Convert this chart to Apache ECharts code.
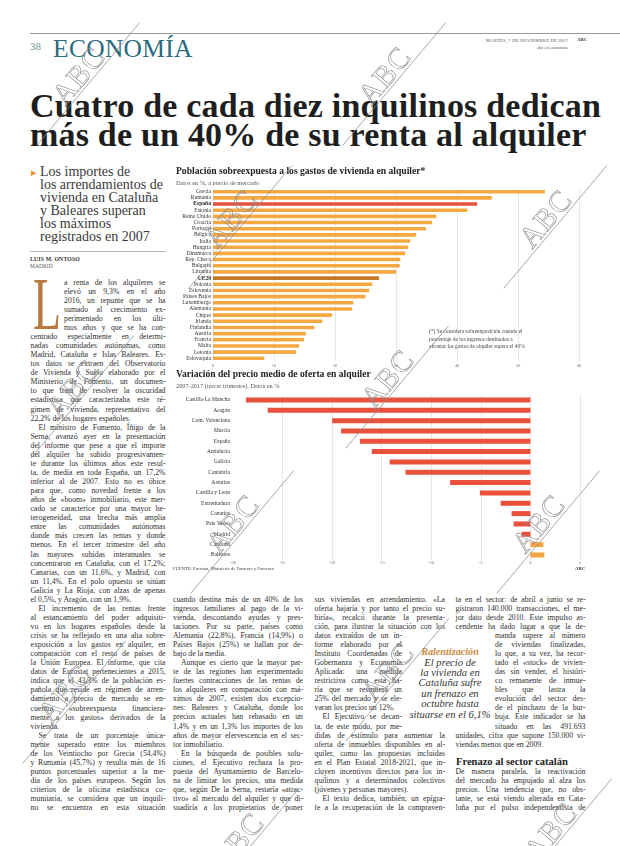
<!DOCTYPE html>
<html><head><meta charset="utf-8">
<script src="https://cdn.jsdelivr.net/npm/echarts@6/dist/echarts.min.js"></script>
<style>
html,body{margin:0;padding:0;background:#fff;}
#page{position:relative;width:620px;height:846px;overflow:hidden;background:#fff;font-family:'Liberation Serif',serif;color:#2e2e2e;}
.ab{position:absolute;white-space:nowrap;}
.ch{position:absolute;}
#wm{position:absolute;left:0;top:0;pointer-events:none;}
</style></head>
<body><div id="page">
<div id="c1" class="ch" style="left:170px;top:160px;width:450px;height:212px;"></div>
<div id="c2" class="ch" style="left:170px;top:360px;width:450px;height:215px;"></div>
</div>
<script>
// ---------- DATA ----------
const c1Countries = ['Grecia','Rumanía','España','Estonia','Reino Unido','Croacia','Portugal','Bélgica','Italia','Hungría','Dinamarca','Rep. Checa','Bulgaria','Lituania','UE28','Polonia','Eslovenia','Países Bajos','Luxemburgo','Alemania','Chipre','Irlanda','Finlandia','Austria','Francia','Malta','Letonia','Eslovaquia'];
const c1Values = [54.4,45.7,43.3,41.7,36.6,35.9,34.9,33.3,32.3,32.0,31.5,30.7,30.6,30.0,27.2,26.1,25.6,25.0,23.0,22.8,19.5,17.9,16.6,15.2,14.9,14.1,13.6,8.4];
const c1Ticks = [0,10,20,30,40,50,60];
const c2Regions = ['Castilla-La Mancha','Aragón','Com. Valenciana','Murcia','España','Andalucía','Galicia','Cantabria','Asturias','Castilla y León','Extremadura','Canarias','País Vasco','Madrid','Cataluña','Baleares'];
const c2Values = [-28.7,-26.5,-20.0,-19.1,-17.2,-16.0,-14.2,-12.6,-8.1,-5.1,-3.0,-1.9,-1.7,-0.9,1.3,1.4];
const c2Ticks = [-30,-25,-20,-15,-10,-5,0,5];

// ---------- TEXT ----------
const headline = ['Cuatro de cada diez inquilinos dedican','más de un 40% de su renta al alquiler'];
const deck = ['Los importes de','los arrendamientos de','vivienda en Cataluña','y Baleares superan','los máximos','registrados en 2007'];
const leftCol = [
"a renta de los alquileres se","elevó un 9,3% en el año","2016, un repunte que se ha","sumado al crecimiento ex-","perimentado en los últi-","mos años y que se ha con-",
"centrado especialmente en determi-","nadas comunidades autónomas, como","Madrid, Cataluña e Islas Baleares. Es-","tos datos se extraen del Observatorio","de Vivienda y Suelo elaborado por el","Ministerio de Fomento, un documen-","to que trata de resolver la oscuridad","estadística que caracterizaba este ré-","gimen de vivienda, representativo del","22,2% de los hogares españoles.$",
"^El ministro de Fomento, Íñigo de la","Serna, avanzó ayer en la presentación","del informe que pese a que el importe","del alquiler ha subido progresivamen-","te durante los últimos años este resul-","ta, de media en toda España, un 17,2%","inferior al de 2007. Esto no es óbice","para que, como novedad frente a los","años de «boom» inmobiliario, este mer-","cado se caracterice por una mayor he-","terogeneidad, una brecha más amplia","entre las comunidades autónomas","donde más crecen las rentas y donde","menos. En el tercer trimestre del año","las mayores subidas interanuales se","concentraron en Cataluña, con el 17,2%;","Canarias, con un 11,6%, y Madrid, con","un 11,4%. En el polo opuesto se sitúan","Galicia y La Rioja, con alzas de apenas","el 0,5%, y Aragón, con un 1,9%.$",
"^El incremento de las rentas frente","al estancamiento del poder adquisiti-","vo en los hogares españoles desde la","crisis se ha reflejado en una alta sobre-","exposición a los gastos en alquiler, en","comparación con el resto de países de","la Unión Europea. El informe, que cita","datos de Eurostat pertenecientes a 2015,","indica que el 43,3% de la población es-","pañola que reside en régimen de arren-","damiento a precio de mercado se en-","cuentra «sobreexpuesta financiera-","mente a los gastos» derivados de la","vivienda.$",
"^Se trata de un porcentaje única-","mente superado entre los miembros","de los Veintiocho por Grecia (54,4%)","y Rumanía (45,7%) y resulta más de 16","puntos porcentuales superior a la me-","dia de los países europeos. Según los","criterios de la oficina estadística co-","munitaria, se considera que un inquili-","no se encuentra en esta situación"];
const col1 = [
"cuando destina más de un 40% de los","ingresos familiares al pago de la vi-","vienda, descontando ayudas y pres-","taciones. Por su parte, países como","Alemania (22,8%), Francia (14,9%) o","Países Bajos (25%) se hallan por de-","bajo de la media.$",
"^Aunque es cierto que la mayor par-","te de las regiones han experimentado","fuertes contracciones de las rentas de","los alquileres en comparación con má-","ximos de 2007, existen dos excepcio-","nes: Baleares y Cataluña, donde los","precios actuales han rebasado en un","1,4% y en un 1,3% los importes de los","años de mayor efervescencia en el sec-","tor inmobiliario.$",
"^En la búsqueda de posibles solu-","ciones, el Ejecutivo rechaza la pro-","puesta del Ayuntamiento de Barcelo-","na de limitar los precios, una medida","que, según De la Serna, restaría «atrac-","tivo» al mercado del alquiler y que di-","suadiría a los propietarios de poner"];
const col2 = [
"sus viviendas en arrendamiento. «La","oferta bajaría y por tanto el precio su-","biría», recalcó durante la presenta-","ción, para ilustrar la situación con los","datos extraídos de un in-","forme elaborado por el","Instituto Coordenadas de","Gobernanza y Economía","Aplicada: una medida","restrictiva como esta ha-","ría que se resintiera un","25% del mercado y se ele-","varan los precios un 12%.$",
"^El Ejecutivo se decan-","ta, de este modo, por me-","didas de estímulo para aumentar la","oferta de inmuebles disponibles en al-","quiler, como las propuestas incluidas","en el Plan Estatal 2018-2021, que in-","cluyen incentivos directos para los in-","quilinos y a determinados colectivos","(jóvenes y personas mayores).$",
"^El texto dedica, también, un epígra-","fe a la recuperación de la compraven-"];
const col3 = [
"ta en el sector: de abril a junio se re-","gistraron 140.000 transacciones, el me-","jor dato desde 2010. Este impulso as-","cendente ha dado lugar a que la de-","manda supere al número","de viviendas finalizadas,","lo que, a su vez, ha recor-","tado el «stock» de vivien-","das sin vender, el históri-","co remanente de inmue-","bles que lastra la","evolución del sector des-","de el pinchazo de la bur-","buja. Este indicador se ha","situado en las 491.693","unidades, cifra que supone 150.000 vi-","viendas menos que en 2009.$",
"","",
"De manera paralela, la reactivación","del mercado ha empujado al alza los","precios. Una tendencia que, no obs-","tante, se está viendo alterada en Cata-","luña por el pulso independentista de"];
const quote = ['El precio de','la vivienda en','Cataluña sufre','un frenazo en','octubre hasta','situarse en el 6,1%'];
const marks = [[86,82],[392,82],[238,225],[553,225],[80,395],[395,385],[240,530],[546,530],[72,700],[395,678],[245,848],[558,838]];

const page = document.getElementById('page');
const G = 9.06, FS = 7.75;

function addText(t, x, base, fs, css){
  const s = document.createElement('span');
  s.className = 'ab'; s.textContent = t;
  s.style.fontSize = fs + 'px'; s.style.lineHeight = fs + 'px';
  s.style.left = x + 'px'; s.style.top = (base - 0.8375*fs) + 'px';
  if (css) Object.assign(s.style, css);
  page.appendChild(s);
  return s;
}
function tiny(t, x, base, fs, css, right){
  const k = 3;
  const s = addText(t, x, base, fs*k, css);
  s.style.transformOrigin = '0 0';
  s.style.transform = 'scale(' + (1/k) + ')';
  s.style.top = (base - 0.8375*fs) + 'px';
  if (right){ const w = s.getBoundingClientRect().width; s.style.left = (x - w) + 'px'; }
  return s;
}
function line(t, x, w, base, fs, justify, css){
  const s = addText(t, x, base, fs, css);
  const nat = s.getBoundingClientRect().width;
  const extra = w - nat;
  const nsp = (t.match(/ /g) || []).length;
  if (extra < 0) s.style.letterSpacing = (extra / t.length) + 'px';
  else if (justify && nsp > 0) s.style.wordSpacing = (extra / nsp) + 'px';
  return s;
}
function column(lines, x0, x1, yc0, sFrom, sTo, sx0, sx1){
  lines.forEach((raw, i) => {
    if (!raw) return;
    let t = raw, ind = 0, just = true;
    if (t.startsWith('^')) { t = t.slice(1); ind = 8; }
    if (t.endsWith('$')) { t = t.slice(0, -1); just = false; }
    let a = x0, b = x1;
    if (i + 1 >= sFrom && i + 1 <= sTo) { a = sx0; b = sx1; }
    line(t, a + ind, b - a - ind, yc0 + i*G + 2.2, FS, just);
  });
}
function hr(x, y, w, c, h){
  const d = document.createElement('div');
  d.style.cssText = 'position:absolute;left:'+x+'px;top:'+y+'px;width:'+w+'px;height:'+(h||0.8)+'px;background:'+c;
  page.appendChild(d);
}

function build(){
  // header
  hr(30, 33, 590, '#9a9a9a', 0.8);
  addText('38', 30, 50, 11, {color:'#6f9393'});
  addText('ECONOMÍA', 53, 57.5, 25.5, {color:'#2b6c7e', letterSpacing:'0.3px'});
  tiny('MARTES, 7 DE NOVIEMBRE DE 2017', 568, 41.5, 4.6, {color:'#555', letterSpacing:'0.6px'}, true);
  tiny('ABC', 587, 41.5, 4.8, {color:'#333', fontWeight:'bold'}, true);
  tiny('abc.es/economia', 568, 48.5, 4.6, {color:'#555'}, true);

  // headline
  const h1 = addText(headline[0], 30, 117, 34, {fontWeight:'bold', color:'#1e1e1e'});
  const nat = h1.getBoundingClientRect().width;
  const ls = (571 - nat) / headline[0].length;
  h1.style.letterSpacing = ls + 'px';
  addText(headline[1], 30, 146, 34, {fontWeight:'bold', color:'#1e1e1e', letterSpacing: ls + 'px'});

  // deck
  addText('▸', 31, 176, 11, {color:'#e0913a', fontFamily:'DejaVu Sans'});
  deck.forEach((t, i) => addText(t, 40, 176.5 + i*13.1, 14, {color:'#3a3a3a'}));
  hr(30, 251, 136, '#b5b5b5', 0.7);
  tiny('LUIS M. ONTOSO', 30, 261, 5.8, {fontWeight:'bold', color:'#333', letterSpacing:'0.4px'});
  tiny('MADRID', 30, 268.5, 5.4, {color:'#555', letterSpacing:'0.5px'});

  // drop cap
  addText('L', 33, 329, 74, {color:'#b87a40', transformOrigin:'0 0', transform:'scaleX(0.62)'});

  // columns
  column(leftCol, 30.5, 165.5, 283, 1, 6, 64, 165.5);
  column(col1, 173, 303, 600, 0, -1, 0, 0);
  column(col2, 314.5, 445, 600, 5, 15, 314.5, 402);
  column(col3, 455.5, 585.5, 600, 5, 15, 495, 585.5);
  addText('Frenazo al sector catalán', 456, 765.5, 10.5, {fontWeight:'bold', color:'#222'});

  // pull quote
  const rq = addText('Ralentización', 0, 656, 10.2, {fontWeight:'bold', fontStyle:'italic', color:'#c98a3e'});
  rq.style.left = (450 - rq.getBoundingClientRect().width/2) + 'px';
  quote.forEach((t, i) => {
    const s = addText(t, 0, 666.5 + i*10.4, 10.6, {fontStyle:'italic', color:'#333'});
    s.style.left = (450 - s.getBoundingClientRect().width/2) + 'px';
  });

  // watermarks
  const ns = 'http://www.w3.org/2000/svg';
  const svg = document.createElementNS(ns, 'svg');
  svg.setAttribute('id', 'wm'); svg.setAttribute('width', 620); svg.setAttribute('height', 846);
  marks.forEach(([cx, cy]) => {
    const g = document.createElementNS(ns, 'g');
    g.setAttribute('transform', 'translate(' + cx + ',' + cy + ') rotate(-50)');
    const l = document.createElementNS(ns, 'line');
    l.setAttribute('x1', -80); l.setAttribute('y1', 3); l.setAttribute('x2', 80); l.setAttribute('y2', 3);
    l.setAttribute('stroke', '#8c8c8c'); l.setAttribute('stroke-width', '0.7');
    const tx = document.createElementNS(ns, 'text');
    tx.setAttribute('x', 0); tx.setAttribute('y', 0); tx.setAttribute('text-anchor', 'middle');
    tx.setAttribute('font-family', 'Liberation Serif'); tx.setAttribute('font-size', '30');
    tx.setAttribute('fill', 'none'); tx.setAttribute('stroke', '#8c8c8c'); tx.setAttribute('stroke-width', '0.6');
    tx.setAttribute('letter-spacing', '1');
    tx.textContent = 'ABC';
    g.appendChild(l); g.appendChild(tx); svg.appendChild(g);
  });
  page.appendChild(svg);

  // ---------- CHART 1 ----------
  const serif = 'Liberation Serif';
  const ch1 = echarts.init(document.getElementById('c1'));
  ch1.setOption({
    animation: false,
    title: {
      text: 'Población sobreexpuesta a los gastos de vivienda en alquiler*',
      subtext: 'Datos en %, a precio de mercado',
      left: 6, top: 6.5, itemGap: 2, padding: 0,
      textStyle: {fontFamily: serif, fontWeight: 'bold', fontSize: 9.6, lineHeight: 11, color: '#222'},
      subtextStyle: {fontFamily: serif, fontSize: 6.3, lineHeight: 8, color: '#555'}
    },
    grid: {left: 43, top: 28.6, width: 366, height: 172.8},
    xAxis: {
      type: 'value', min: c1Ticks[0], max: c1Ticks[c1Ticks.length-1], interval: 10,
      axisLine: {show: false}, axisTick: {show: false},
      splitLine: {lineStyle: {color: '#d6d6d6', width: 0.6}},
      axisLabel: {fontSize: 4.6, color: '#777', margin: 2, fontFamily: serif}
    },
    yAxis: {
      type: 'category', data: c1Countries, inverse: true,
      axisLine: {show: false}, axisTick: {show: false},
      axisLabel: {
        interval: 0, fontSize: 5.6, color: '#333', margin: 2, fontFamily: serif,
        formatter: v => (v === 'España' || v === 'UE28') ? '{b|' + v + '}' : v,
        rich: {b: {fontWeight: 'bold', fontSize: 5.6, color: '#1e1e1e', fontFamily: serif}}
      }
    },
    series: [{
      type: 'bar', barWidth: 3.6, silent: true,
      data: c1Values.map((v, i) => ({
        value: v,
        itemStyle: {color: c1Countries[i] === 'España' ? '#e4533d' : (c1Countries[i] === 'UE28' ? '#c27a24' : '#f5a741')}
      }))
    }],
    graphic: [{
      type: 'text', left: 259, top: 168,
      style: {
        text: '(*) Se considera sobreexposición cuando el\nporcentaje de los ingresos destinados a\nafrontar los gastos de alquiler supera el 40%',
        fontSize: 5.4, lineHeight: 7.6, fill: '#444', fontFamily: serif
      }
    }]
  });

  // ---------- CHART 2 ----------
  const ch2 = echarts.init(document.getElementById('c2'));
  ch2.setOption({
    animation: false,
    title: {
      text: 'Variación del precio medio de oferta en alquiler',
      subtext: '2007-2017 (tercer trimestre). Datos en %',
      left: 6, top: 9.5, itemGap: 2, padding: 0,
      textStyle: {fontFamily: serif, fontWeight: 'bold', fontSize: 9.6, lineHeight: 11, color: '#222'},
      subtextStyle: {fontFamily: serif, fontSize: 6.3, lineHeight: 8, color: '#555'}
    },
    grid: {left: 63, top: 34.8, width: 347, height: 165.3},
    xAxis: {
      type: 'value', min: c2Ticks[0], max: c2Ticks[c2Ticks.length-1], interval: 5,
      axisLine: {show: false}, axisTick: {show: false},
      splitLine: {showMinLine: false, lineStyle: {color: '#d6d6d6', width: 0.6}},
      axisLabel: {fontSize: 4.6, color: '#777', margin: 0.5, fontFamily: serif}
    },
    yAxis: {
      type: 'category', data: c2Regions, inverse: true,
      axisLine: {show: false}, axisTick: {show: false},
      axisLabel: {interval: 0, fontSize: 5.6, color: '#333', margin: 3, fontFamily: serif}
    },
    series: [{
      type: 'bar', barWidth: 5, silent: true,
      data: c2Values.map(v => ({value: v, itemStyle: {color: v < 0 ? '#e9513d' : '#f5a540'}}))
    }],
    graphic: [
      {type: 'text', left: 3, top: 206.5, style: {text: 'FUENTE: Eurostat, Ministerio de Fomento y Fotocasa', fontSize: 4.6, fill: '#444', fontFamily: serif}},
      {type: 'text', left: 405, top: 206.5, style: {text: 'ABC', fontSize: 4.8, fontWeight: 'bold', fill: '#333', fontFamily: serif}}
    ]
  });
}
window.addEventListener('load', () => {
  (document.fonts ? document.fonts.ready : Promise.resolve()).then(build);
});
</script>
</body></html>
